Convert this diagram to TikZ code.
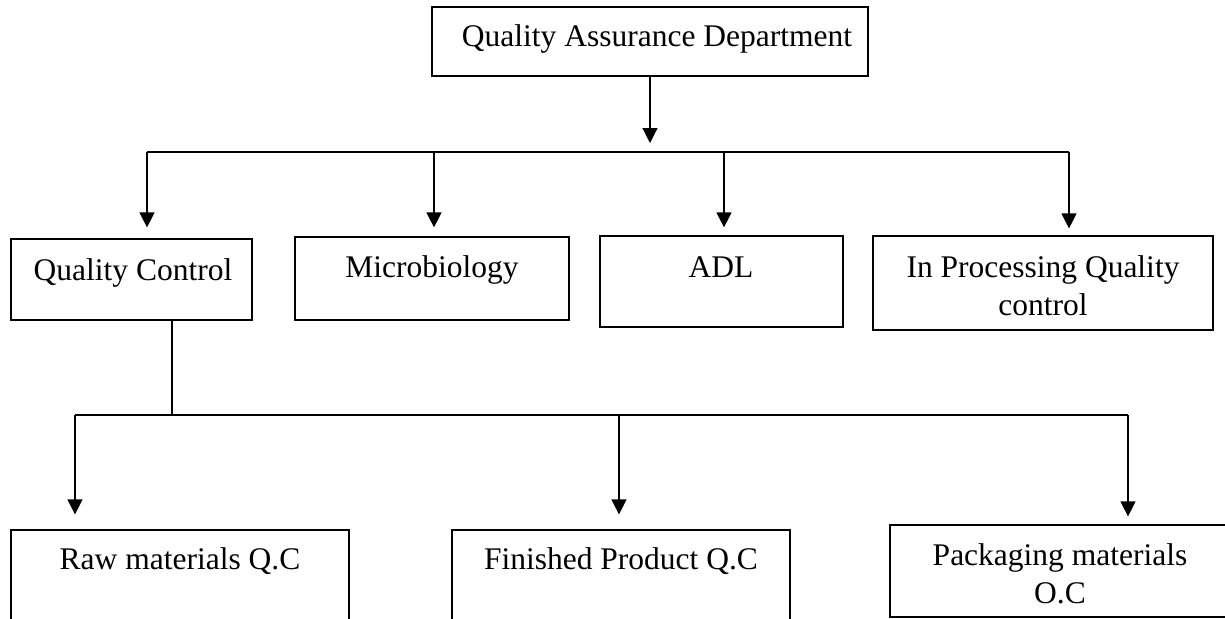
\documentclass[tikz,border=0pt]{standalone}
\usepackage{fontspec}
\setmainfont{Liberation Serif}
\usetikzlibrary{arrows.meta}
\begin{document}
\begin{tikzpicture}[x=1pt,y=-1pt,
  box/.style={draw, line width=1.2pt, inner sep=0pt},
  lbl/.style={font=\fontsize{31.5}{38}\selectfont, inner sep=0pt, anchor=base, align=center},
  conn/.style={line width=1.2pt},
  arr/.style={conn, -{Triangle[width=15pt,length=15pt]}}]
\useasboundingbox (0,0) rectangle (1225,618);
\clip (0,0) rectangle (1225,618);
% boxes
\node[box, minimum width=436pt, minimum height=69pt] (qa) at (650,41.5) {};
\node[box, minimum width=241pt, minimum height=81pt] (qc) at (131.5,279.5) {};
\node[box, minimum width=274pt, minimum height=83pt] (micro) at (432,278.5) {};
\node[box, minimum width=243pt, minimum height=91pt] (adl) at (721.5,281.5) {};
\node[box, minimum width=340pt, minimum height=94pt] (inproc) at (1043,283) {};
\node[box, minimum width=338pt, minimum height=120pt] (raw) at (180,590) {};
\node[box, minimum width=338pt, minimum height=120pt] (fin) at (621,590) {};
\node[box, minimum width=338pt, minimum height=92pt] (pack) at (1059,571) {};
% labels
\node[lbl] (qat) at (657,47) {Quality Assurance Department};
\node[lbl] (qct) at (133,280) {Quality Control};
\node[lbl] (microt) at (432,277) {Microbiology};
\node[lbl] (adlt) at (721,277) {ADL};
\node[lbl] (inproct) at (1043,315) {In Processing Quality\\control};
\node[lbl] (rawt) at (180,569) {Raw materials Q.C};
\node[lbl] (fint) at (621,569) {Finished Product Q.C};
\node[lbl] (packt) at (1060,603) {Packaging materials\\O.C};
% connectors, top level
\coordinate (qatip) at (650,143);
\draw[arr] (qa.south) -- (qatip);
\coordinate (j1) at (147,152);
\coordinate (j2) at (434,152);
\coordinate (j3) at (724,152);
\coordinate (j4) at (1069,152);
\draw[conn] (j1) -- (j4);
\draw[arr, shorten >=11pt] (j1) -- (j1 |- qc.north);
\draw[arr, shorten >=9pt] (j2) -- (j2 |- micro.north);
\draw[arr, shorten >=8pt] (j3) -- (j3 |- adl.north);
\draw[arr, shorten >=7pt] (j4) -- (j4 |- inproc.north);
% connectors, quality control
\coordinate (qcj) at (172,415);
\draw[conn] (qc.south -| qcj) -- (qcj);
\coordinate (k1) at (75,415);
\coordinate (k2) at (619,415);
\coordinate (k3) at (1128,415);
\draw[conn] (k1) -- (k3);
\draw[arr, shorten >=15pt] (k1) -- (k1 |- raw.north);
\draw[arr, shorten >=15pt] (k2) -- (k2 |- fin.north);
\draw[arr, shorten >=8pt] (k3) -- (k3 |- pack.north);
\end{tikzpicture}
\end{document}
